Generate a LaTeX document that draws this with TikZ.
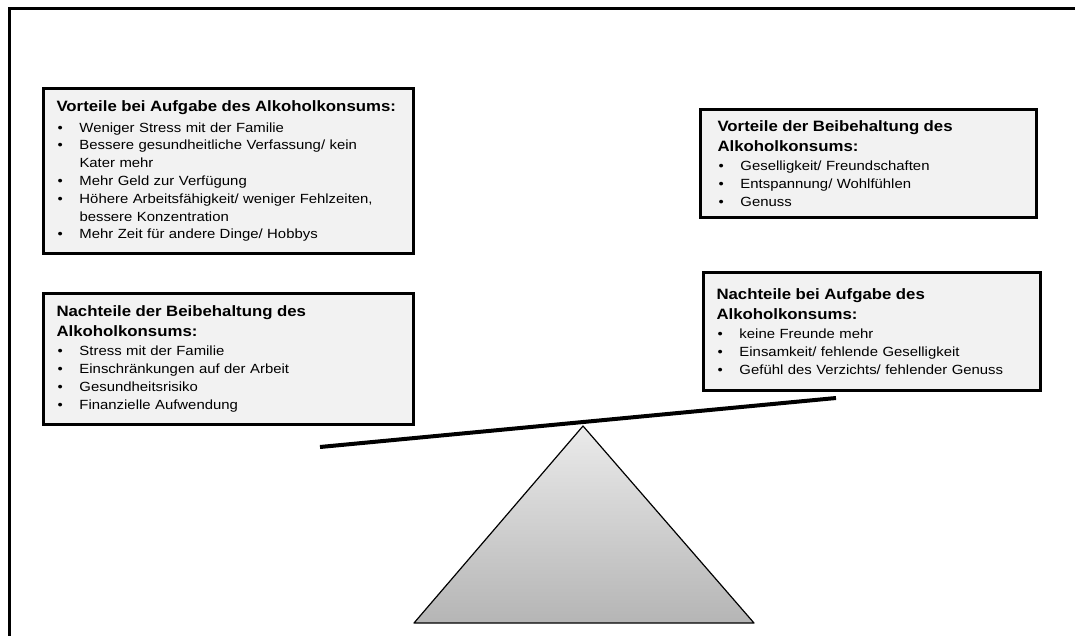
\documentclass[tikz,border=0pt]{standalone}
\usepackage{fontspec}
\setmainfont{Liberation Sans}[FakeStretch=1.12]
\usetikzlibrary{positioning}
\hyphenpenalty=10000
\newcommand{\titelschrift}{\fontsize{15}{20}\selectfont\bfseries}
\newcommand{\punkt}{\makebox[23pt][l]{\hspace{1pt}\textbullet}}
\tikzset{/waage/kasten/.style={rectangle, draw, line width=3pt, fill=gray!10, anchor=north west, align=left, inner xsep=13pt, inner ysep=12pt, node font=\fontsize{13.3}{17.8}\selectfont
}}
\tikzset{/waage/balken/.style={line width=4pt, line cap=butt
}}
\tikzset{/waage/dreieck/.style={line width=1.2pt, line join=round, top color=gray!16, bottom color=gray!58
}}

\begin{document}
\begin{tikzpicture}[x=1pt, y=-1pt]
		\useasboundingbox (0,0) rectangle (1075,636);
		% Rahmen
		\draw[line width=3pt] (9,636) -- (9,9) -- (1075,9);
		% Kaesten links
		\node[/waage/kasten, text width=344pt] (vorteileAufgabe) at (42,87) {
			{\titelschrift Vorteile bei Aufgabe des Alkoholkonsums:}\\[3pt]
			\punkt Weniger Stress mit der Familie\\
			\punkt Bessere gesundheitliche Verfassung/ kein\\
			\hspace*{23pt}Kater mehr\\
			\punkt Mehr Geld zur Verfügung\\
			\punkt Höhere Arbeitsfähigkeit/ weniger Fehlzeiten,\\
			\hspace*{23pt}bessere Konzentration\\
			\punkt Mehr Zeit für andere Dinge/ Hobbys
		};
		\node[/waage/kasten, text width=344pt] (nachteileBeibehaltung) at (42,292) {
			{\titelschrift Nachteile der Beibehaltung des\\[2pt] Alkoholkonsums:}\\[2pt]
			\punkt Stress mit der Familie\\
			\punkt Einschränkungen auf der Arbeit\\
			\punkt Gesundheitsrisiko\\
			\punkt Finanzielle Aufwendung
		};
		% Kaesten rechts
		\node[/waage/kasten, inner xsep=17pt, inner ysep=11pt, text width=302pt] (vorteileBeibehaltung) at (699,108) {
			{\titelschrift Vorteile der Beibehaltung des\\[2pt] Alkoholkonsums:}\\[2pt]
			\punkt Geselligkeit/ Freundschaften\\
			\punkt Entspannung/ Wohlfühlen\\
			\punkt Genuss
		};
		\node[/waage/kasten, inner ysep=16pt, text width=311pt] (nachteileAufgabe) at (702,271) {
			{\titelschrift Nachteile bei Aufgabe des\\[2pt] Alkoholkonsums:}\\[2pt]
			\punkt keine Freunde mehr\\
			\punkt Einsamkeit/ fehlende Geselligkeit\\
			\punkt Gefühl des Verzichts/ fehlender Genuss
		};
		% Waage
		\coordinate (spitze) at (583,426);
		\coordinate (fussLinks) at (414,623);
		\coordinate (fussRechts) at (754,623);
		\shade[/waage/dreieck] (spitze) -- (fussRechts) -- (fussLinks) -- cycle;
		\draw[/waage/dreieck, shade=none] (spitze) -- (fussRechts) -- (fussLinks) -- cycle;
		\draw[/waage/balken] (320,447) -- (836,398);
	\end{tikzpicture}
\end{document}
